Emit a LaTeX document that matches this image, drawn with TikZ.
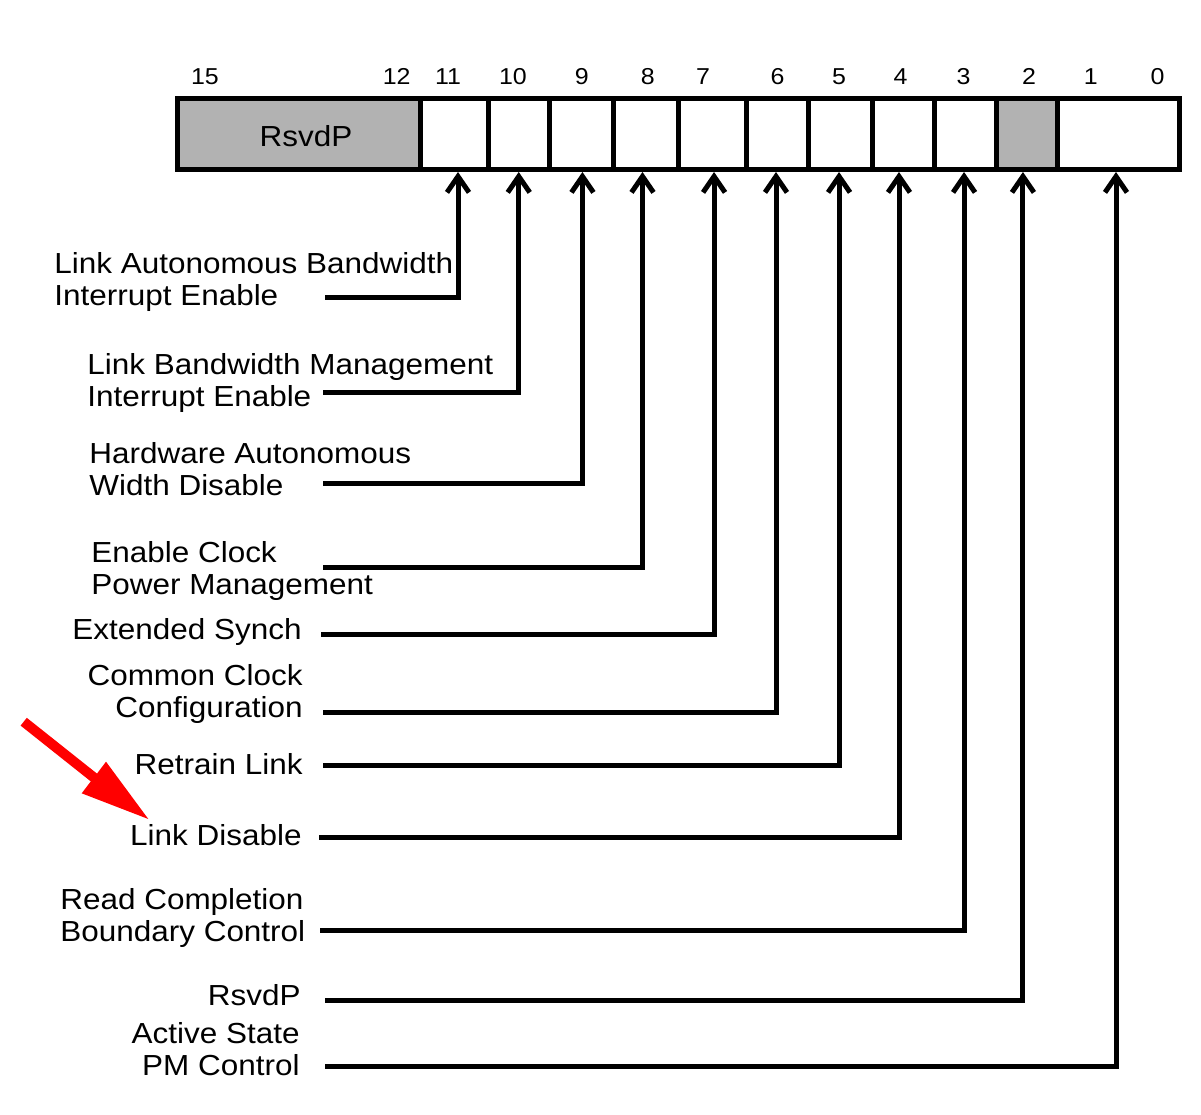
\documentclass[tikz,border=0pt]{standalone}
\usepackage{fontspec}
\setmainfont{Liberation Sans}[FakeStretch=1.085]
\usetikzlibrary{arrows.meta}
\definecolor{regGray}{RGB}{178,178,178}
\begin{document}
\begin{tikzpicture}[x=0.5pt,y=-0.5pt,
  field/.style={draw=black, line width=2.5pt, inner sep=0pt, minimum height=35.5pt},
  rsvd/.style={fill=regGray},
  bitnum/.style={font=\fontsize{11.5}{13}\selectfont, inner sep=0pt, anchor=base},
  lab/.style={font=\fontsize{14.5}{15.75}\selectfont, inner sep=0pt},
  conn/.style={line width=2.5pt, -{Straight Barb[length=8pt,width=11pt]}},
  ]
\useasboundingbox (0,0) rectangle (1201,1115);

% register fields
\node[field, rsvd, minimum width=121.5pt] (f15) at (299,134) {};
\node[field, minimum width=33.75pt] (f11) at (454.25,134) {};
\node[field, minimum width=30.75pt] (f10) at (518.75,134) {};
\node[field, minimum width=31.75pt] (f9) at (581.25,134) {};
\node[field, minimum width=32.5pt] (f8) at (645.5,134) {};
\node[field, minimum width=34.25pt] (f7) at (712.25,134) {};
\node[field, minimum width=31pt] (f6) at (777.5,134) {};
\node[field, minimum width=31.75pt] (f5) at (840.25,134) {};
\node[field, minimum width=31pt] (f4) at (903,134) {};
\node[field, minimum width=31.25pt] (f3) at (965.25,134) {};
\node[field, rsvd, minimum width=30.25pt] (f2) at (1026.75,134) {};
\node[field, minimum width=61pt] (f1) at (1118,134) {};
\node[lab, anchor=base] (trsvd) at (306,146) {RsvdP};

% bit numbers
\node[bitnum] (b15) at (205,84.5) {15};
\node[bitnum] (b12) at (396.7,84.5) {12};
\node[bitnum] (b11) at (448,84.5) {11};
\node[bitnum] (b10) at (513,84.5) {10};
\node[bitnum] (b9) at (581.7,84.5) {9};
\node[bitnum] (b8) at (647.7,84.5) {8};
\node[bitnum] (b7) at (703,84.5) {7};
\node[bitnum] (b6) at (777.6,84.5) {6};
\node[bitnum] (b5) at (839,84.5) {5};
\node[bitnum] (b4) at (900.5,84.5) {4};
\node[bitnum] (b3) at (963.5,84.5) {3};
\node[bitnum] (b2) at (1029,84.5) {2};
\node[bitnum] (b1) at (1090.8,84.5) {1};
\node[bitnum] (b0) at (1157.6,84.5) {0};

% labels (base anchor of multi-line nodes = last line's baseline)
\node[lab, anchor=base west, align=left] (l11) at (54,305) {Link Autonomous Bandwidth\\Interrupt Enable};
\node[lab, anchor=base west, align=left] (l10) at (87,406) {Link Bandwidth Management\\Interrupt Enable};
\node[lab, anchor=base west, align=left] (l9) at (89,495) {Hardware Autonomous\\Width Disable};
\node[lab, anchor=base west, align=left] (l8) at (91,594) {Enable Clock\\Power Management};
\node[lab, anchor=base east] (l7) at (302,639) {Extended Synch};
\node[lab, anchor=base east, align=right] (l6) at (303,717) {Common Clock\\Configuration};
\node[lab, anchor=base east] (l5) at (303,774) {Retrain Link};
\node[lab, anchor=base east] (l4) at (302,845) {Link Disable};
\node[lab, anchor=base west, align=left] (l3) at (60,941) {Read Completion\\Boundary Control};
\node[lab, anchor=base east] (l2) at (301,1005) {RsvdP};
\node[lab, anchor=base east, align=right] (l1) at (300,1075) {Active State\\PM Control};

% connector start points
\coordinate (c11) at (325,297);
\coordinate (c10) at (323,392);
\coordinate (c9) at (323,483);
\coordinate (c8) at (323,567);
\coordinate (c7) at (321,634);
\coordinate (c6) at (323,712);
\coordinate (c5) at (323,765);
\coordinate (c4) at (319,837);
\coordinate (c3) at (320,930);
\coordinate (c2) at (325,1000);
\coordinate (c1) at (325,1066);

\draw[conn] (c11) -| ([xshift=1.875pt]f11.south);
\draw[conn] (c10) -| (f10.south);
\draw[conn] (c9) -| ([xshift=0.6pt]f9.south);
\draw[conn] (c8) -| ([xshift=-1.5pt]f8.south);
\draw[conn] (c7) -| ([xshift=0.9pt]f7.south);
\draw[conn] (c6) -| ([xshift=-0.75pt]f6.south);
\draw[conn] (c5) -| ([xshift=-0.6pt]f5.south);
\draw[conn] (c4) -| ([xshift=-2pt]f4.south);
\draw[conn] (c3) -| ([xshift=-0.6pt]f3.south);
\draw[conn] (c2) -| ([xshift=-1.9pt]f2.south);
\draw[conn] (c1) -| ([xshift=-1pt]f1.south);

% red pointer arrow
\fill[red] (26.8,717.8) -- (97,773.6) -- (106,761.7) -- (148.3,819) -- (81.7,793.3) -- (90.8,781.4) -- (20.6,725.6) -- cycle;
\end{tikzpicture}
\end{document}
